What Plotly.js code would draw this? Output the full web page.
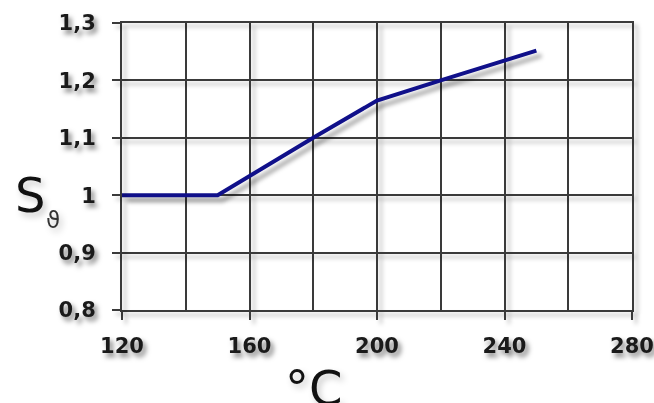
<!DOCTYPE html>
<html>
<head>
<meta charset="utf-8">
<script src="https://cdn.plot.ly/plotly-3.0.1.min.js"></script>
<style>
html, body { margin: 0; padding: 0; background: #fff; }
#chart { width: 654px; height: 403px; }
.gridlayer, .xlines-above, .ylines-above, .xaxislayer-above path, .yaxislayer-above path { filter: drop-shadow(4px 4px 2px rgba(0,0,0,0.28)); }
.scatterlayer { filter: drop-shadow(5px 5px 2px rgba(0,0,0,0.35)); }
.xtick text, .ytick text { filter: drop-shadow(3px 4px 2.5px rgba(0,0,0,0.5)); }
.annotation-text { filter: drop-shadow(3px 4px 3px rgba(0,0,0,0.22)); }
</style>
</head>
<body>
<div id="chart"></div>
<script>
// Data
var temperature = [120, 150, 180, 200, 220, 250];
var sTheta = [1.0, 1.0, 1.1, 1.165, 1.2, 1.252];
var xTickValues = [120, 160, 200, 240, 280];
var yTickValues = [0.8, 0.9, 1.0, 1.1, 1.2, 1.3];
var yTitleMain = 'S';
var yTitleSub = 'ϑ';
var xTitle = '°C';

var tickFont = { family: 'DejaVu Sans, Verdana, sans-serif', size: 21, color: '#1a1a1a', weight: 'bold' };

var trace = {
  x: temperature,
  y: sTheta,
  type: 'scatter',
  mode: 'lines',
  line: { color: '#10108a', width: 4 },
  hoverinfo: 'skip'
};

var layout = {
  width: 654,
  height: 403,
  margin: { l: 122, r: 22, t: 23, b: 93 },
  paper_bgcolor: '#ffffff',
  plot_bgcolor: '#ffffff',
  separators: ', ',
  showlegend: false,
  xaxis: {
    range: [120, 280],
    tickvals: xTickValues,
    ticktext: xTickValues.map(String),
    ticks: 'outside',
    ticklen: 8,
    tickwidth: 2,
    tickcolor: '#3a3a3a',
    ticklabelstandoff: 8,
    tickfont: tickFont,
    showgrid: true,
    gridcolor: '#3a3a3a',
    gridwidth: 2,
    minor: { dtick: 20, tick0: 120, showgrid: true, gridcolor: '#3a3a3a', gridwidth: 2, ticks: '' },
    showline: true,
    linecolor: '#3a3a3a',
    linewidth: 2,
    mirror: true,
    zeroline: false,
    fixedrange: true
  },
  yaxis: {
    range: [0.8, 1.3],
    tickvals: yTickValues,
    ticks: 'outside',
    ticklen: 8,
    tickwidth: 2,
    tickcolor: '#3a3a3a',
    ticklabelstandoff: 12,
    tickfont: tickFont,
    showgrid: true,
    gridcolor: '#3a3a3a',
    gridwidth: 2,
    showline: true,
    linecolor: '#3a3a3a',
    linewidth: 2,
    mirror: true,
    zeroline: false,
    fixedrange: true
  },
  annotations: [
    {
      text: yTitleMain, xref: 'paper', yref: 'paper',
      x: -0.214, y: 0.40, xanchor: 'left', yanchor: 'middle',
      showarrow: false,
      font: { family: 'DejaVu Sans, Verdana, sans-serif', size: 48, color: '#111' }
    },
    {
      text: yTitleSub, xref: 'paper', yref: 'paper',
      x: -0.153, y: 0.315, xanchor: 'left', yanchor: 'middle',
      showarrow: false,
      font: { family: 'DejaVu Sans, Verdana, sans-serif', size: 23, color: '#333' }
    },
    {
      text: xTitle, xref: 'paper', yref: 'paper',
      x: 0.376, y: -0.168, xanchor: 'center', yanchor: 'top',
      showarrow: false,
      font: { family: 'DejaVu Sans, Verdana, sans-serif', size: 48, color: '#111' }
    }
  ]
};

Plotly.newPlot('chart', [trace], layout, { staticPlot: true, displayModeBar: false });
</script>
</body>
</html>
